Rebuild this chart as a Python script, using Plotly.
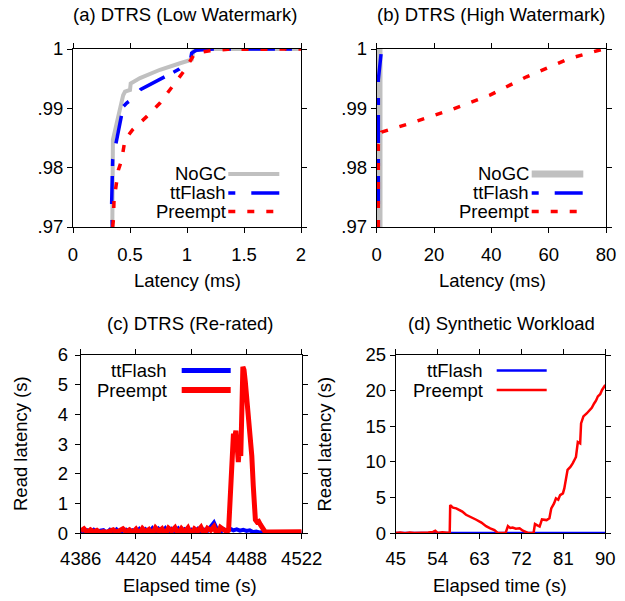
import plotly.graph_objects as go

W, H = 625, 601
FONT = "Liberation Sans, Arial, sans-serif"
FS = 18.5

# ---------------- (a) DTRS (Low Watermark) : CDF ----------------
a_nogc_x = [0.345, 0.35, 0.44, 0.456, 0.50, 0.506, 0.588, 0.763, 0.939, 1.026, 1.041, 1.055, 1.114, 2.0]
a_nogc_y = [0.970, 0.9847, 0.9922, 0.9928, 0.9931, 0.9942, 0.9951, 0.9965, 0.9976, 0.9982, 0.9982, 0.9996, 1.0, 1.0]
a_tt_x = [0.345, 0.339, 0.348, 0.383, 0.427, 0.441, 0.471, 0.506, 0.594, 0.932, 1.032, 1.041, 1.08, 1.23, 2.0]
a_tt_y = [0.970, 0.974, 0.9813, 0.9847, 0.9883, 0.9903, 0.9909, 0.9914, 0.9932, 0.9966, 0.9983, 0.9993, 0.9998, 1.0, 1.0]
a_pre_x = [0.348, 0.354, 0.36, 0.398, 0.427, 0.456, 0.523, 0.646, 0.763, 0.88, 0.982, 1.041, 1.07, 1.2, 1.36, 2.0]
a_pre_y = [0.970, 0.9712, 0.9746, 0.9796, 0.9813, 0.9847, 0.9864, 0.9886, 0.9909, 0.9939, 0.9965, 0.9984, 0.9993, 0.9997, 0.99995, 1.0]

# ---------------- (b) DTRS (High Watermark) : CDF ----------------
b_nogc_x = [0.8, 0.8]
b_nogc_y = [0.970, 1.0]
b_tt_x = [0.56, 0.56, 1.7]
b_tt_y = [0.970, 0.9948, 1.0]
b_pre_x = [0.56, 0.56, 1.7, 11.6, 25.6, 39.5, 52.3, 67.4, 79.1]
b_pre_y = [0.970, 0.9838, 0.9860, 0.98746, 0.9897, 0.99223, 0.99532, 0.99843, 1.0]

# ---------------- (c) DTRS (Re-rated) : time series ----------------
c_tt_t = [4386, 4388, 4390, 4392, 4394, 4396, 4398, 4400, 4402, 4404, 4406, 4408, 4410, 4412,
          4414, 4416, 4418, 4420, 4422, 4424, 4426, 4428, 4430, 4432, 4434, 4436, 4438, 4440,
          4442, 4444, 4446, 4448, 4450, 4452, 4454, 4456, 4458, 4460, 4462, 4464, 4466, 4468,
          4470, 4472, 4474, 4476, 4478, 4480, 4482, 4484, 4486, 4488, 4490, 4492, 4494, 4496,
          4498, 4500, 4502, 4504, 4506, 4508, 4510, 4512, 4514, 4516, 4518, 4520, 4522]
c_tt_v = [0.05, 0.02, 0.10, 0.04, 0.12, 0.03, 0.09, 0.11, 0.02, 0.12, 0.05, 0.13, 0.01, 0.09,
          0.12, 0.04, 0.10, 0.02, 0.14, -0.02, 0.13, 0.03, 0.16, -0.03, 0.15, 0.05, 0.17, -0.02,
          0.14, 0.06, 0.16, 0.01, 0.13, 0.05, 0.12, 0.02, 0.14, -0.02, 0.12, 0.08, 0.22, 0.36,
          0.12, 0.04, 0.14, 0.08, 0.15, 0.10, 0.13, 0.09, 0.12, 0.08, 0.10, 0.04, 0.06, 0.03,
          0.04, 0.02, 0.03, 0.02, 0.03, 0.02, 0.03, 0.02, 0.03, 0.02, 0.03, 0.02, 0.03]
c_pre_t = [4386, 4388, 4390, 4392, 4394, 4396, 4398, 4400, 4402, 4404, 4406, 4408, 4410, 4412,
           4414, 4416, 4418, 4420, 4422, 4424, 4426, 4428, 4430, 4432, 4434, 4436, 4438, 4440,
           4442, 4444, 4446, 4448, 4450, 4452, 4454, 4456, 4458, 4460, 4462, 4464, 4466, 4468,
           4470, 4472, 4474, 4476, 4477, 4478, 4479, 4480, 4480.7, 4481.5, 4482.3, 4483, 4483.8,
           4484.5, 4485.2, 4485.8, 4486.5, 4487.3, 4488.2, 4489.3, 4490.3, 4491.3, 4492.2, 4492.8,
           4493.5, 4494.5, 4495.5, 4496.5, 4497.5, 4498.5, 4499.5, 4502, 4506, 4510, 4514, 4518, 4522]
c_pre_v = [0.08, 0.15, 0.03, 0.12, 0.05, 0.10, 0.02, 0.06, 0.03, 0.08, 0.12, 0.04, 0.10, 0.15,
           0.05, 0.12, 0.03, 0.14, -0.02, 0.16, 0.05, 0.13, -0.03, 0.18, 0.06, 0.15, -0.04, 0.17,
           0.08, 0.19, -0.02, 0.16, 0.04, 0.18, -0.05, 0.15, 0.07, 0.20, -0.03, 0.17, 0.10, 0.22,
           -0.06, 0.20, 0.12, 0.05, 0.10, 1.2, 2.4, 3.35, 3.2, 3.45, 2.9, 2.4, 3.1,
           2.6, 4.2, 5.6, 5.5, 5.1, 4.6, 4.0, 3.2, 2.6, 1.6, 0.9,
           0.45, 0.38, 0.40, 0.30, 0.20, 0.12, 0.05, 0.04, 0.05, 0.04, 0.05, 0.04, 0.05]

# ---------------- (d) Synthetic Workload : time series ----------------
d_tt_t = [45, 90]
d_tt_v = [0.0, 0.0]
d_pre_t = [45, 46, 47, 48, 49, 50, 51, 52, 53, 53.5, 54, 55, 56, 56.6, 56.7, 57.3, 58.0, 58.6,
           59.3, 60.1, 61.2, 62.3, 63.4, 64.4, 65.3, 66.2, 66.9, 67.8, 68.6, 69.1, 69.6, 70.1,
           70.8, 71.6, 72.3, 73.4, 74.6, 74.9, 75.9, 76.4, 77.4, 78.0, 78.4, 79.0, 79.4, 79.9,
           80.3, 80.9, 81.2, 81.9, 82.5, 83.0, 83.7, 84.1, 84.6, 84.8, 85.3, 86.0, 86.6, 87.1,
           87.6, 88.0, 88.4, 88.9, 89.3, 89.9, 90.0]
d_pre_v = [0.05, 0.10, 0.02, 0.12, 0.05, 0.08, 0.03, 0.10, 0.20, 0.35, 0.05, 0.15, 0.08, 0.10,
           3.95, 3.6, 3.5, 3.3, 3.05, 2.6, 2.3, 1.9, 1.5, 1.0, 0.7, 0.45, 0.05, 0.10, 0.05, 1.0,
           0.75, 0.8, 0.65, 0.7, 0.37, 0.05, 0.05, 1.3, 0.95, 1.95, 1.85, 2.1, 3.5, 4.2, 4.9, 4.7,
           5.35, 5.6, 6.3, 8.9, 9.3, 9.8, 10.7, 12.8, 12.6, 15.4, 16.4, 16.8, 17.3, 17.6,
           18.2, 18.6, 19.2, 19.5, 20.1, 20.6, 20.8]

GRAY = "#c0c0c0"
BLUE = "#0000ff"
RED = "#ff0000"
TT_DASH = "7px,16px,28px,10px"
PRE_DASH = "7px,12px"

fig = go.Figure()
fig.add_trace(go.Scatter(x=a_nogc_x, y=a_nogc_y, mode="lines", line=dict(color=GRAY, width=4), xaxis="x", yaxis="y"))
fig.add_trace(go.Scatter(x=a_tt_x, y=a_tt_y, mode="lines", line=dict(color=BLUE, width=3.5, dash=TT_DASH), xaxis="x", yaxis="y"))
fig.add_trace(go.Scatter(x=a_pre_x, y=a_pre_y, mode="lines", line=dict(color=RED, width=3.5, dash=PRE_DASH), xaxis="x", yaxis="y"))

fig.add_trace(go.Scatter(x=b_nogc_x, y=b_nogc_y, mode="lines", line=dict(color=GRAY, width=7), xaxis="x2", yaxis="y2"))
fig.add_trace(go.Scatter(x=b_tt_x, y=b_tt_y, mode="lines", line=dict(color=BLUE, width=3.5, dash=TT_DASH), xaxis="x2", yaxis="y2"))
fig.add_trace(go.Scatter(x=b_pre_x, y=b_pre_y, mode="lines", line=dict(color=RED, width=3.5, dash=PRE_DASH), xaxis="x2", yaxis="y2"))

fig.add_trace(go.Scatter(x=c_tt_t, y=c_tt_v, mode="lines", line=dict(color=BLUE, width=4), xaxis="x3", yaxis="y3"))
fig.add_trace(go.Scatter(x=c_pre_t, y=c_pre_v, mode="lines", line=dict(color=RED, width=5), xaxis="x3", yaxis="y3"))

fig.add_trace(go.Scatter(x=d_tt_t, y=d_tt_v, mode="lines", line=dict(color=BLUE, width=3), xaxis="x4", yaxis="y4"))
fig.add_trace(go.Scatter(x=d_pre_t, y=d_pre_v, mode="lines", line=dict(color=RED, width=2.5), xaxis="x4", yaxis="y4"))


def px(x):
    return x / W


def py(y):
    return 1 - y / H


axis_common = dict(showline=True, linecolor="black", linewidth=1, mirror="allticks",
                   ticks="outside", ticklen=5, tickcolor="black", tickwidth=1, automargin=False,
                   showgrid=False, zeroline=False, tickfont=dict(family=FONT, size=FS, color="black"))

fig.update_layout(
    width=W, height=H, margin=dict(l=0, r=0, t=0, b=0, autoexpand=False),
    paper_bgcolor="white", plot_bgcolor="white", showlegend=False, hovermode=False,
    xaxis=dict(domain=[px(73), px(301)], range=[0, 2], tickvals=[0, 0.5, 1, 1.5, 2],
               ticktext=["0", "0.5", "1", "1.5", "2"], anchor="y", ticklabelstandoff=6, **axis_common),
    yaxis=dict(domain=[py(227), py(49)], range=[0.97, 1.0], tickvals=[0.97, 0.98, 0.99, 1.0],
               ticktext=[".97", ".98", ".99", "1"], anchor="x", **axis_common),
    xaxis2=dict(domain=[px(376.7), px(606)], range=[0, 80], tickvals=[0, 20, 40, 60, 80],
                anchor="y2", ticklabelstandoff=6, **axis_common),
    yaxis2=dict(domain=[py(227), py(49)], range=[0.97, 1.0], tickvals=[0.97, 0.98, 0.99, 1.0],
                ticktext=[".97", ".98", ".99", "1"], anchor="x2", **axis_common),
    xaxis3=dict(domain=[px(80.7), px(301.7)], range=[4386, 4522],
                tickvals=[4386, 4420, 4454, 4488, 4522], anchor="y3", ticklabelstandoff=3, **axis_common),
    yaxis3=dict(domain=[py(533.3), py(355)], range=[0, 6], tickvals=[0, 1, 2, 3, 4, 5, 6],
                anchor="x3", ticklabelstandoff=3, **axis_common),
    xaxis4=dict(domain=[px(395.7), px(605.3)], range=[45, 90],
                tickvals=[45, 54, 63, 72, 81, 90], anchor="y4", ticklabelstandoff=3, **axis_common),
    yaxis4=dict(domain=[py(533.3), py(355)], range=[0, 25], tickvals=[0, 5, 10, 15, 20, 25],
                anchor="x4", **axis_common),
)

annotations = []


def text(s, x, y, xanchor="center", angle=0):
    annotations.append(dict(text=s, x=px(x), y=py(y), xref="paper", yref="paper",
                            xanchor=xanchor, yanchor="middle", showarrow=False, textangle=angle,
                            borderpad=0, font=dict(family=FONT, size=FS, color="black")))


# titles
text("(a) DTRS (Low Watermark)", 185, 15)
text("(b) DTRS (High Watermark)", 491, 15)
text("(c) DTRS (Re-rated)", 190, 323)
text("(d) Synthetic Workload", 501, 323)
# axis titles
text("Latency (ms)", 187, 280)
text("Latency (ms)", 492, 280)
text("Elapsed time (s)", 190, 585)
text("Elapsed time (s)", 500, 585)
text("Read latency (s)", 20, 444, angle=-90)
text("Read latency (s)", 323.5, 444, angle=-90)

shapes = []


def key(label, xr, y, x0, x1, color, width, dash="solid"):
    text(label, xr, y, xanchor="right")
    shapes.append(dict(type="line", xref="paper", yref="paper", x0=px(x0), x1=px(x1),
                       y0=py(y), y1=py(y), line=dict(color=color, width=width, dash=dash)))


# legends (gnuplot style: label then sample)
key("NoGC", 226.7, 174, 228.3, 279.3, GRAY, 4)
key("ttFlash", 226.7, 193, 228.3, 279.3, BLUE, 3.5, TT_DASH)
key("Preempt", 226.7, 211.5, 228.3, 279.3, RED, 3.5, PRE_DASH)

key("NoGC", 530, 174, 531.7, 583.3, GRAY, 7)
key("ttFlash", 530, 193, 531.7, 583.3, BLUE, 3.5, TT_DASH)
key("Preempt", 530, 211.5, 531.7, 583.3, RED, 3.5, PRE_DASH)

key("ttFlash", 168, 370.5, 181.7, 230.7, BLUE, 5)
key("Preempt", 168, 390, 181.7, 230.7, RED, 6)

key("ttFlash", 484, 370.5, 496.7, 546.7, BLUE, 2.5)
key("Preempt", 484, 390, 496.7, 546.7, RED, 2.5)

fig.update_layout(annotations=annotations, shapes=shapes)

# remove the default 8px page margin so the figure fills the window exactly
fig.write_html("out.html", config={"displayModeBar": False},
               post_script="document.body.style.margin='0';")
